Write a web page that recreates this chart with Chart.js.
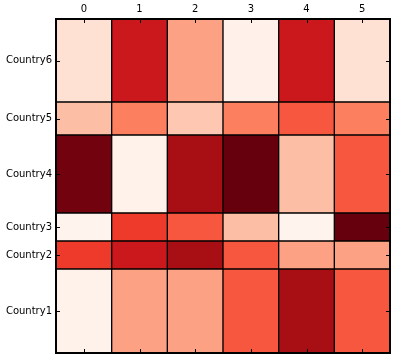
<!DOCTYPE html>
<html>
<head>
<meta charset="utf-8">
<script src="https://cdn.jsdelivr.net/npm/chart.js@4.4.1/dist/chart.umd.min.js"></script>
<style>
  html, body { margin: 0; padding: 0; background: #fff; }
  #wrap { width: 397px; height: 361px; }
</style>
</head>
<body>
<div id="wrap"><canvas id="heatChart"></canvas></div>
<script>
// colonnes et lignes de la heatmap (de bas en haut)
const columns = ["0", "1", "2", "3", "4", "5"];
const countries = ["Country1", "Country2", "Country3", "Country4", "Country5", "Country6"];
const rowHeights = [84, 28, 28, 78, 33, 83];

// valeurs (echelle 0..1, colormap Reds)
const country1 = [0.02, 0.33, 0.33, 0.55, 0.87, 0.55];
const country2 = [0.63, 0.75, 0.87, 0.55, 0.33, 0.33];
const country3 = [0.01, 0.63, 0.55, 0.24, 0.01, 1.0];
const country4 = [0.98, 0.02, 0.87, 1.0, 0.24, 0.55];
const country5 = [0.24, 0.43, 0.21, 0.43, 0.55, 0.43];
const country6 = [0.12, 0.75, 0.33, 0.03, 0.75, 0.12];
const rows = [country1, country2, country3, country4, country5, country6];

// colormap "Reds" de matplotlib
const redsStops = ["#fff5f0", "#fee0d2", "#fcbba1", "#fc9272", "#fb6a4a", "#ef3b2c", "#cb181d", "#a50f15", "#67000d"];
function hexToRgb(h) {
  return [parseInt(h.slice(1, 3), 16), parseInt(h.slice(3, 5), 16), parseInt(h.slice(5, 7), 16)];
}
function reds(v) {
  const t = Math.max(0, Math.min(1, v)) * (redsStops.length - 1);
  const i = Math.min(Math.floor(t), redsStops.length - 2);
  const f = t - i;
  const a = hexToRgb(redsStops[i]);
  const b = hexToRgb(redsStops[i + 1]);
  const c = a.map((x, k) => Math.round(x + (b[k] - x) * f));
  return `rgb(${c[0]}, ${c[1]}, ${c[2]})`;
}

// bords et centres des lignes
const edges = [0];
rowHeights.forEach((h) => edges.push(edges[edges.length - 1] + h));
const centers = rowHeights.map((h, i) => edges[i] + h / 2);

const datasets = rows.map((vals, r) => ({
  label: countries[r],
  data: columns.map(() => [edges[r], edges[r + 1]]),
  backgroundColor: vals.map(reds),
  borderColor: "#000",
  borderWidth: 1,
  borderSkipped: false,
  grouped: false,
  barPercentage: 1,
  categoryPercentage: 1,
}));

// cadre noir + petites graduations vers l'interieur (style matplotlib)
const frame = {
  id: "frame",
  afterDatasetsDraw(chart) {
    const { ctx, chartArea: a, scales } = chart;
    const len = 4;
    ctx.save();
    ctx.strokeStyle = "#000";
    ctx.lineWidth = 1;
    ctx.beginPath();
    columns.forEach((c, i) => {
      const x = Math.round(scales.x.getPixelForValue(i)) + 0.5;
      ctx.moveTo(x, a.top); ctx.lineTo(x, a.top + len);
      ctx.moveTo(x, a.bottom); ctx.lineTo(x, a.bottom - len);
    });
    centers.forEach((v) => {
      const y = Math.round(scales.y.getPixelForValue(v)) + 0.5;
      ctx.moveTo(a.left, y); ctx.lineTo(a.left + len, y);
      ctx.moveTo(a.right, y); ctx.lineTo(a.right - len, y);
    });
    ctx.stroke();
    ctx.lineWidth = 2;
    ctx.strokeRect(a.left, a.top, a.right - a.left, a.bottom - a.top);
    ctx.restore();
  },
};

Chart.defaults.font.family = "'DejaVu Sans', sans-serif";
Chart.defaults.font.size = 10;
Chart.defaults.color = "#000";

new Chart(document.getElementById("heatChart").getContext("2d"), {
  type: "bar",
  data: { labels: columns, datasets: datasets },
  options: {
    responsive: true,
    maintainAspectRatio: false,
    animation: false,
    layout: { padding: { left: 0, top: 0, right: 7, bottom: 8 } },
    plugins: { legend: { display: false }, tooltip: { enabled: false } },
    scales: {
      x: {
        position: "top",
        grid: { display: false, drawTicks: false },
        border: { display: false },
        ticks: { padding: 4, maxRotation: 0 },
        afterFit: (s) => { s.height = 19; s.paddingLeft = 0; s.paddingRight = 0; },
      },
      y: {
        type: "linear",
        min: 0,
        max: edges[edges.length - 1],
        grid: { display: false, drawTicks: false },
        border: { display: false },
        afterBuildTicks: (s) => { s.ticks = centers.map((v) => ({ value: v })); },
        ticks: {
          autoSkip: false,
          padding: 4,
          callback: (v, i) => countries[i],
        },
        afterFit: (s) => { s.width = 56; s.paddingTop = 0; s.paddingBottom = 0; },
      },
    },
  },
  plugins: [frame],
});
</script>
</body>
</html>
